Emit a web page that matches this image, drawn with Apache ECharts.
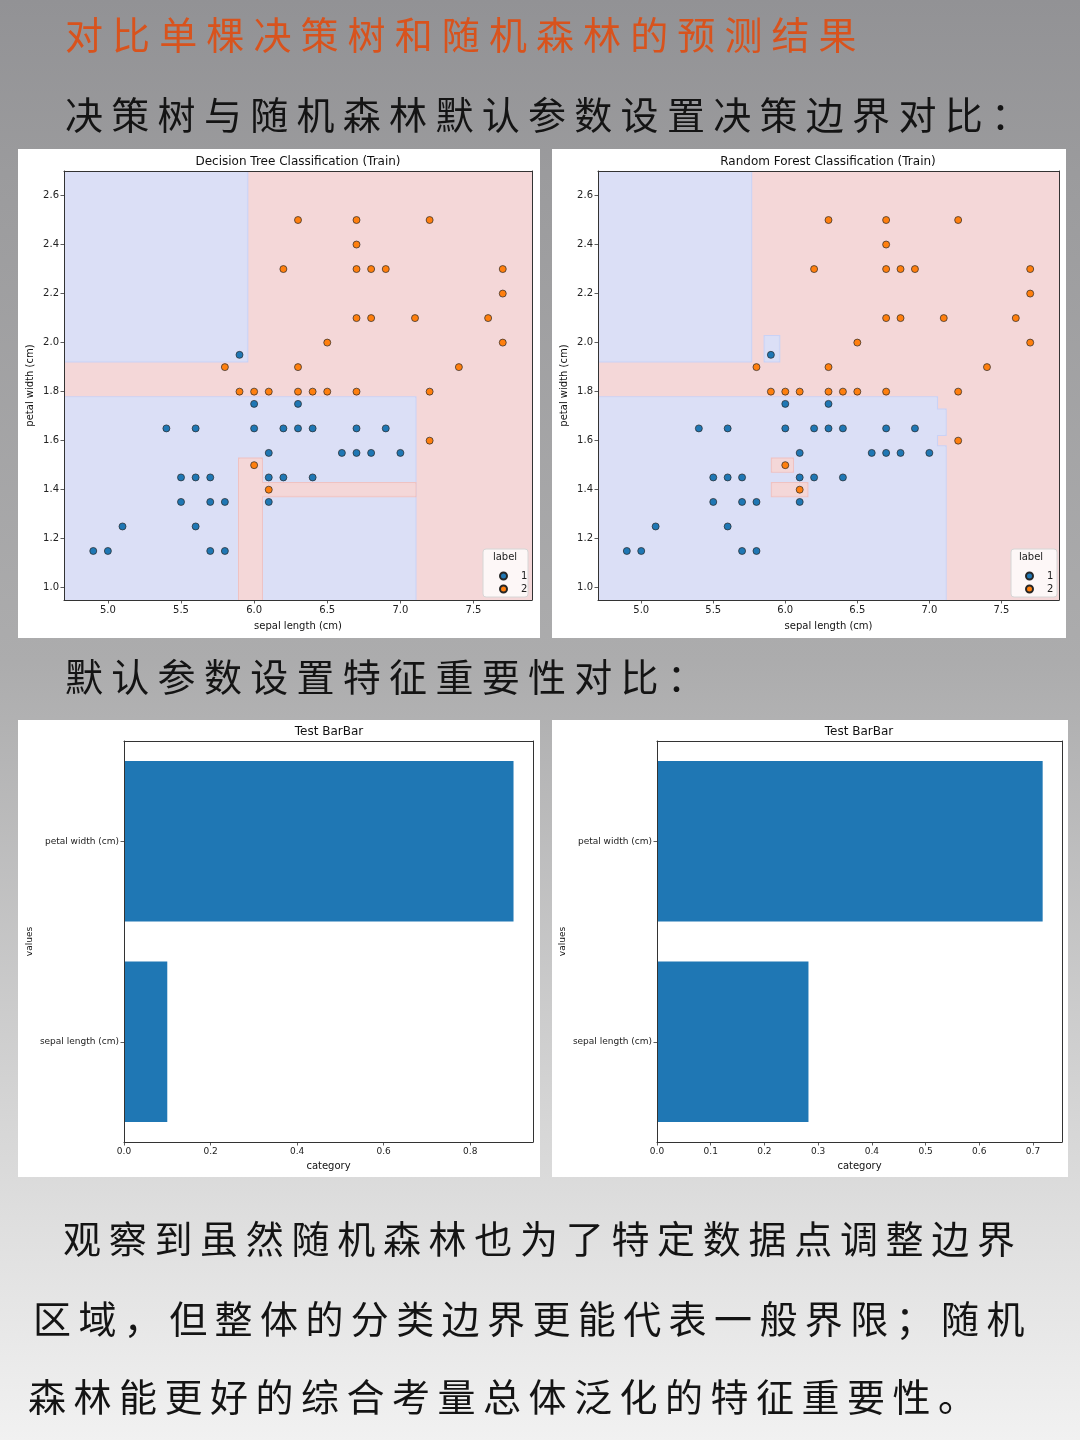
<!DOCTYPE html>
<html>
<head>
<meta charset="utf-8">
<script src="https://cdn.jsdelivr.net/npm/echarts@6/dist/echarts.min.js"></script>
<style>
html,body{margin:0;padding:0;width:1080px;height:1440px;overflow:hidden;}
body{position:relative;background:linear-gradient(to bottom,#929295 0%,#9b9b9d 12%,#acacad 46%,#d6d6d6 78%,#f1f1f1 100%);}
#chart{position:absolute;left:0;top:0;width:1080px;height:1440px;}
.t{position:absolute;white-space:nowrap;line-height:1;color:#141414;font-family:"Noto Sans CJK SC";font-weight:400;}
</style>
</head>
<body>
<div id="chart"></div>
<div id="texts"></div>
<script>
// ---------- data ----------
const pageTitle = '对比单棵决策树和随机森林的预测结果';
const heading1 = '决策树与随机森林默认参数设置决策边界对比：';
const heading2 = '默认参数设置特征重要性对比：';
const paragraphLines = [
  '观察到虽然随机森林也为了特定数据点调整边界',
  '区域，但整体的分类边界更能代表一般界限；随机',
  '森林能更好的综合考量总体泛化的特征重要性。'
];

const scatterTitles = ['Decision Tree Classification (Train)', 'Random Forest Classification (Train)'];
const barTitle = 'Test BarBar';
const legendNames = ['1', '2'];

// training points [sepal length, petal width]
const trainClass1 = [[5.9,1.95],[6.0,1.75],[6.3,1.75],[5.4,1.65],[5.6,1.65],[6.0,1.65],[6.2,1.65],[6.3,1.65],[6.4,1.65],[6.7,1.65],[6.9,1.65],[6.1,1.55],[6.6,1.55],[6.7,1.55],[6.8,1.55],[7.0,1.55],[5.5,1.45],[5.6,1.45],[5.7,1.45],[6.1,1.45],[6.2,1.45],[6.4,1.45],[5.5,1.35],[5.7,1.35],[5.8,1.35],[6.1,1.35],[5.1,1.25],[5.6,1.25],[4.9,1.15],[5.0,1.15],[5.7,1.15],[5.8,1.15]];
const trainClass2 = [[6.3,2.5],[6.7,2.5],[7.2,2.5],[6.7,2.4],[6.2,2.3],[6.7,2.3],[6.8,2.3],[6.9,2.3],[7.7,2.3],[7.7,2.2],[6.7,2.1],[6.8,2.1],[7.1,2.1],[7.6,2.1],[6.5,2.0],[7.7,2.0],[5.8,1.9],[6.3,1.9],[7.4,1.9],[5.9,1.8],[6.0,1.8],[6.1,1.8],[6.3,1.8],[6.4,1.8],[6.5,1.8],[6.7,1.8],[7.2,1.8],[7.2,1.6],[6.0,1.5],[6.1,1.4]];

// decision regions [x0, x1, y0, y1, class], drawn in order
const dtRegions = [[4.7,7.9,0.95,2.7,2],[4.7,5.95,1.925,2.7,1],[4.7,7.1,0.95,1.775,1],[5.9,6.05,0.95,1.525,2],[6.05,7.1,1.375,1.425,2]];
const rfRegions = [[4.7,7.9,0.95,2.7,2],[4.7,5.76,1.925,2.7,1],[5.86,5.955,1.925,2.025,1],[4.7,7.11,0.95,1.575,1],[4.7,7.05,1.575,1.625,1],[4.7,7.11,1.625,1.725,1],[4.7,7.05,1.725,1.775,1],[5.91,6.05,1.475,1.525,2],[5.91,6.15,1.375,1.425,2]];

// feature importances
const featureNames = ['sepal length (cm)', 'petal width (cm)'];
const dtImportance = [0.1, 0.9];
const rfImportance = [0.282, 0.718];

// tick labels
const scatterXTicks = [5.0, 5.5, 6.0, 6.5, 7.0, 7.5];
const scatterYTicks = [1.0, 1.2, 1.4, 1.6, 1.8, 2.0, 2.2, 2.4, 2.6];
const dtBarTicks = [0.0, 0.2, 0.4, 0.6, 0.8];
const rfBarTicks = [0.0, 0.1, 0.2, 0.3, 0.4, 0.5, 0.6, 0.7];

// ---------- html text ----------
const textBox = document.getElementById('texts');
function addText(str, left, top, size, spacing, color) {
  const d = document.createElement('div');
  d.className = 't';
  d.textContent = str;
  d.style.left = left + 'px';
  d.style.top = top + 'px';
  d.style.fontSize = size + 'px';
  d.style.letterSpacing = spacing + 'px';
  if (color) d.style.color = color;
  textBox.appendChild(d);
}
addText(pageTitle, 65, 14, 38, 9.1, '#d8531d');
addText(heading1, 65, 94, 38, 8.3);
addText(heading2, 65, 656, 38, 8.3);
addText(paragraphLines[0], 63, 1218, 38, 7.7);
addText(paragraphLines[1], 33, 1298, 38, 7.4);
addText(paragraphLines[2], 28, 1376, 38, 7.5);

// ---------- chart ----------
const FONT = 'DejaVu Sans';
const AX = '#333333';
const BLUE_FILL = '#dbdff6', BLUE_EDGE = '#c9d2f6';
const PINK_FILL = '#f4d7d8', PINK_EDGE = '#efc2c2';

// drawing passes: first region is the base fill; then each class group is
// outlined (wide stroke) and filled afterwards so only outer edges show.
function regionPasses(regions) {
  const out = [regions[0].concat([2])];
  const rest = regions.slice(1);
  [1, 2].forEach(cls => {
    const group = rest.filter(r => r[4] === cls);
    group.forEach(r => out.push(r.concat([0])));
    group.forEach(r => out.push(r.concat([1])));
  });
  return out;
}

const chart = echarts.init(document.getElementById('chart'), null, {renderer: 'canvas'});

function spineAxis(gi, pos) {
  return {type: 'value', gridIndex: gi, position: pos, min: 0, max: 1, z: 10,
    axisLine: {show: true, onZero: false, lineStyle: {color: AX, width: 1}},
    axisTick: {show: false}, axisLabel: {show: false}, splitLine: {show: false}};
}
function valueAxis(gi, pos, min, max, ticks, name, nameGap, fs) {
  return {type: 'value', gridIndex: gi, position: pos, min: min, max: max, z: 10,
    name: name, nameLocation: 'middle', nameGap: nameGap,
    nameTextStyle: {fontFamily: FONT, fontSize: 10, color: '#111'},
    axisLine: {show: true, onZero: false, lineStyle: {color: AX, width: 1}},
    axisTick: {show: true, customValues: ticks, length: 3.5, lineStyle: {color: AX, width: 0.8}},
    axisLabel: {show: true, customValues: ticks, formatter: v => Number(v).toFixed(1),
      fontFamily: FONT, fontSize: fs, color: '#222', margin: 5},
    splitLine: {show: false}};
}
function catAxis(gi) {
  return {type: 'category', gridIndex: gi, data: featureNames, z: 10,
    name: 'values', nameLocation: 'middle', nameGap: 90,
    nameTextStyle: {fontFamily: FONT, fontSize: 9, color: '#111'},
    axisLine: {show: true, lineStyle: {color: AX, width: 1}},
    axisTick: {show: true, alignWithLabel: true, length: 3.5, lineStyle: {color: AX, width: 0.8}},
    axisLabel: {interval: 0, fontFamily: FONT, fontSize: 9, color: '#222', margin: 5},
    splitLine: {show: false}};
}
function regionItem(params, api) {
  const c = api.value(4);
  const pass = api.value(5);
  const p0 = api.coord([api.value(0), api.value(3)]);
  const p1 = api.coord([api.value(1), api.value(2)]);
  const shape = {x: p0[0], y: p0[1], width: p1[0] - p0[0], height: p1[1] - p0[1]};
  const fill = c === 1 ? BLUE_FILL : PINK_FILL;
  const edge = c === 1 ? BLUE_EDGE : PINK_EDGE;
  const style = pass === 0 ? {fill: edge, stroke: edge, lineWidth: 3}
                           : {fill: fill, stroke: fill, lineWidth: 1};
  return {type: 'rect', shape: shape, style: style};
}
function scatterSeries(name, data, color, gi) {
  return {type: 'scatter', name: name, xAxisIndex: gi, yAxisIndex: gi, data: data,
    symbol: 'circle', symbolSize: 7, z: 5,
    itemStyle: {color: color, borderColor: '#262626', borderWidth: 0.7, opacity: 1},
    emphasis: {disabled: true}};
}
function legendOpt(left) {
  return {data: legendNames, orient: 'vertical', left: left, top: 566, z: 30,
    itemWidth: 7, itemHeight: 7, itemGap: 3, icon: 'circle', selectedMode: false,
    textStyle: {fontFamily: FONT, fontSize: 10, color: '#222', padding: [0, 0, 0, 9]}};
}
function titleOpt(text, left, top) {
  return {text: text, left: left, top: top, textAlign: 'center', padding: 0,
    textStyle: {fontFamily: FONT, fontSize: 12, fontWeight: 'normal', color: '#111'}};
}

const option = {
  animation: false,
  backgroundColor: 'transparent',
  title: [
    titleOpt(scatterTitles[0], 298, 156),
    titleOpt(scatterTitles[1], 828, 156),
    titleOpt(barTitle, 329, 726),
    titleOpt(barTitle, 859, 726)
  ],
  legend: [legendOpt(494), legendOpt(1020)],
  grid: [
    {left: 64, top: 171, width: 468, height: 429},
    {left: 598, top: 171, width: 461, height: 429},
    {left: 124, top: 741, width: 409, height: 401},
    {left: 657, top: 741, width: 405, height: 401}
  ],
  xAxis: [
    valueAxis(0, 'bottom', 4.7, 7.9, scatterXTicks, 'sepal length (cm)', 21, 10),
    valueAxis(1, 'bottom', 4.7, 7.9, scatterXTicks, 'sepal length (cm)', 21, 10),
    valueAxis(2, 'bottom', 0, 0.945, dtBarTicks, 'category', 19, 9),
    valueAxis(3, 'bottom', 0, 0.754, rfBarTicks, 'category', 19, 9),
    spineAxis(0, 'top'), spineAxis(1, 'top'), spineAxis(2, 'top'), spineAxis(3, 'top')
  ],
  yAxis: [
    valueAxis(0, 'left', 0.95, 2.7, scatterYTicks, 'petal width (cm)', 29, 10),
    valueAxis(1, 'left', 0.95, 2.7, scatterYTicks, 'petal width (cm)', 29, 10),
    catAxis(2),
    catAxis(3),
    spineAxis(0, 'right'), spineAxis(1, 'right'), spineAxis(2, 'right'), spineAxis(3, 'right')
  ],
  series: [
    {type: 'custom', xAxisIndex: 0, yAxisIndex: 0, data: regionPasses(dtRegions), renderItem: regionItem,
      encode: {x: [0, 1], y: [2, 3]}, clip: true, z: 1, silent: true},
    {type: 'custom', xAxisIndex: 1, yAxisIndex: 1, data: regionPasses(rfRegions), renderItem: regionItem,
      encode: {x: [0, 1], y: [2, 3]}, clip: true, z: 1, silent: true},
    scatterSeries('1', trainClass1, '#1f77b4', 0),
    scatterSeries('2', trainClass2, '#ff7f0e', 0),
    scatterSeries('1', trainClass1, '#1f77b4', 1),
    scatterSeries('2', trainClass2, '#ff7f0e', 1),
    {type: 'bar', xAxisIndex: 2, yAxisIndex: 2, data: dtImportance, barCategoryGap: '20%',
      itemStyle: {color: '#1f77b4'}, silent: true},
    {type: 'bar', xAxisIndex: 3, yAxisIndex: 3, data: rfImportance, barCategoryGap: '20%',
      itemStyle: {color: '#1f77b4'}, silent: true}
  ],
  graphic: {elements: [
    {type: 'rect', z: -1, silent: true, shape: {x: 18, y: 149, width: 522, height: 489}, style: {fill: '#ffffff'}},
    {type: 'rect', z: -1, silent: true, shape: {x: 552, y: 149, width: 514, height: 489}, style: {fill: '#ffffff'}},
    {type: 'rect', z: -1, silent: true, shape: {x: 18, y: 720, width: 522, height: 457}, style: {fill: '#ffffff'}},
    {type: 'rect', z: -1, silent: true, shape: {x: 552, y: 720, width: 516, height: 457}, style: {fill: '#ffffff'}},
    {type: 'rect', z: 25, silent: true, shape: {x: 483, y: 549, width: 45, height: 48, r: 3}, style: {fill: 'rgba(255,255,255,0.8)', stroke: '#d6d6d6', lineWidth: 1}},
    {type: 'rect', z: 25, silent: true, shape: {x: 1011, y: 549, width: 46, height: 48, r: 3}, style: {fill: 'rgba(255,255,255,0.8)', stroke: '#d6d6d6', lineWidth: 1}},
    {type: 'text', z: 30, silent: true, x: 505, y: 557, style: {text: 'label', fontFamily: FONT, fontSize: 10, fill: '#222', align: 'center', verticalAlign: 'middle'}},
    {type: 'text', z: 30, silent: true, x: 1031, y: 557, style: {text: 'label', fontFamily: FONT, fontSize: 10, fill: '#222', align: 'center', verticalAlign: 'middle'}}
  ]}
};
chart.setOption(option);
</script>
</body>
</html>
